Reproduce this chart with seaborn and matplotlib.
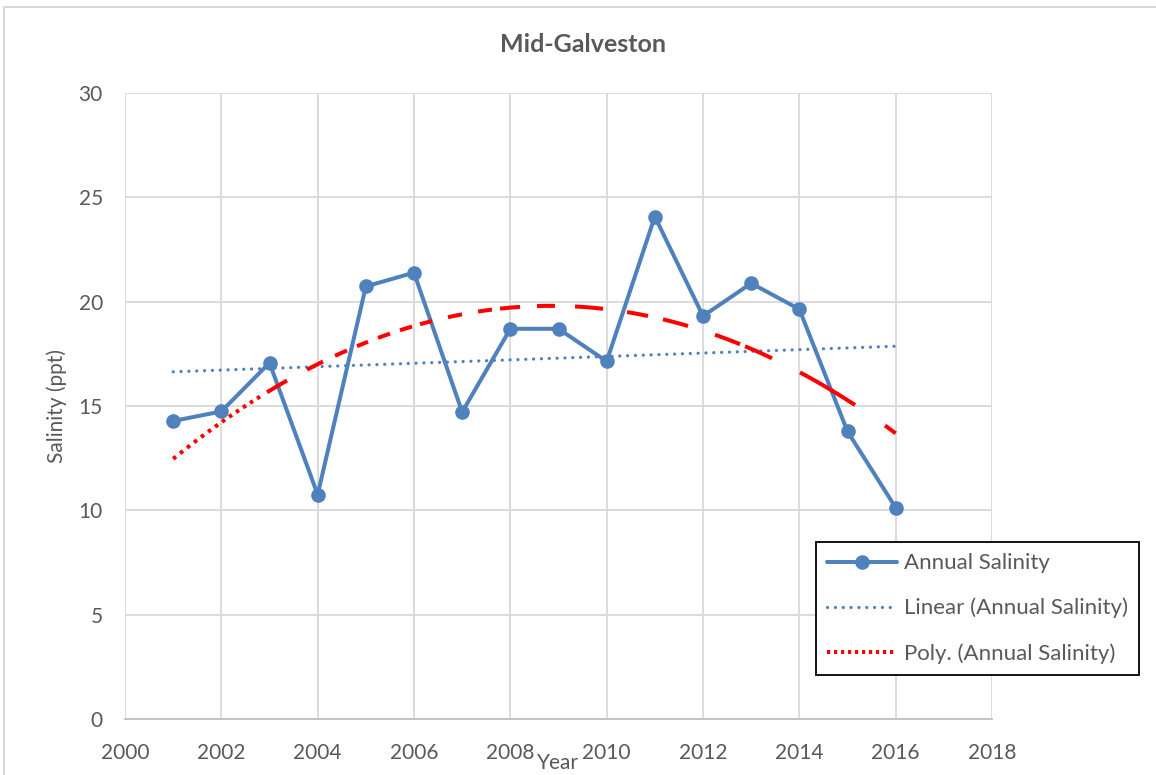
import matplotlib
matplotlib.use("Agg")
import matplotlib.pyplot as plt
import matplotlib.patches as mpatches
import seaborn as sns
import numpy as np

# ---- data ----
years = [2001, 2002, 2003, 2004, 2005, 2006, 2007, 2008,
         2009, 2010, 2011, 2012, 2013, 2014, 2015, 2016]
salinity = [14.28, 14.74, 17.07, 10.75, 20.73, 21.39, 14.71, 18.70,
            18.70, 17.14, 24.08, 19.31, 20.88, 19.64, 13.78, 10.13]
x_ticks = [2000, 2002, 2004, 2006, 2008, 2010, 2012, 2014, 2016, 2018]
y_ticks = [0, 5, 10, 15, 20, 25, 30]
title = "Mid-Galveston"
x_label = "Year"
y_label = "Salinity (ppt)"
series_label = "Annual Salinity"
linear_label = "Linear (Annual Salinity)"
poly_label = "Poly. (Annual Salinity)"

BLUE = "#4F81BD"
RED = "#FF0000"
TXT = "#595959"
GRID = "#D9D9D9"

sns.set_theme(style="white")
plt.rcParams["font.family"] = ["Lato", "DejaVu Sans"]
plt.rcParams["lines.scale_dashes"] = False

W, H = 1156, 775
fig = plt.figure(figsize=(W / 100, H / 100), dpi=100)
L, R, T, B = 125, 992, 93, 719
ax = fig.add_axes([L / W, 1 - B / H, (R - L) / W, (B - T) / H])
ax.set_xlim(2000, 2018)
ax.set_ylim(0, 30)

# main series
sns.lineplot(x=years, y=salinity, ax=ax, color=BLUE, linewidth=2.9,
             marker="o", markersize=10.5, markeredgewidth=0,
             label=series_label, zorder=3)

PT = 0.72  # pixels -> points at 100 dpi

# linear trend (dotted)
sns.regplot(x=years, y=salinity, ax=ax, order=1, ci=None, scatter=False,
            truncate=True, label=linear_label,
            line_kws=dict(color=BLUE, linewidth=2.3,
                          linestyle=(0, (0.1, 7.7 * PT)),
                          dash_capstyle="round", zorder=4))

# ---- polynomial trend, styled like Excel's rendering ----
# arc length (pixels) along the fitted curve, used only to place the dash pattern
coef = np.polyfit(years, salinity, 2)
xs = np.linspace(years[0], years[-1], 3000)
pix = ax.transData.transform(np.column_stack([xs, np.polyval(coef, xs)]))
arc = np.concatenate([[0], np.cumsum(np.hypot(*np.diff(pix, axis=0).T))])
pix_x = pix[:, 0]


def s_at(xpix):
    return float(np.interp(xpix, pix_x, arc))


def pattern(ranges):
    seq = [0.01, s_at(ranges[0][0])]
    for i, (a, b) in enumerate(ranges):
        on = s_at(b) - s_at(a)
        off = (s_at(ranges[i + 1][0]) - s_at(b)) if i + 1 < len(ranges) else 5000
        seq += [max(on, 0.01), max(off, 0.01)]
    return tuple(v * PT for v in seq)


# horizontal pixel spans of the red marks (style only)
dot_spans = [(173 + 7 * k, 176 + 7 * k) for k in range(13)]
dash_spans_a = [(267, 287), (307, 323), (335, 347), (357, 368), (378, 390),
                (400, 412), (420, 432), (448, 462), (478, 492)]
dash_spans_b = [(500, 520), (537, 555), (575, 603), (627, 648), (663, 688),
                (715, 740), (745, 772), (800, 855), (885, 897)]

for spans, lab in [(dot_spans, poly_label), (dash_spans_a, "_nolegend_"),
                   (dash_spans_b, "_nolegend_")]:
    sns.regplot(x=years, y=salinity, ax=ax, order=2, ci=None, scatter=False,
                truncate=True, label=lab,
                line_kws=dict(color=RED, linewidth=2.9,
                              linestyle=(0, pattern(spans)),
                              dash_capstyle="butt", zorder=5))

ax.set_xlim(2000, 2018)
ax.set_ylim(0, 30)
ax.set_xticks(x_ticks)
ax.set_yticks(y_ticks)
ax.set_xticklabels([str(v) for v in x_ticks])
ax.set_yticklabels([str(v) for v in y_ticks])
ax.tick_params(axis="both", length=0, labelsize=15, labelcolor=TXT)
ax.tick_params(axis="x", pad=17)
ax.tick_params(axis="y", pad=16)
ax.set_xlabel("")
ax.set_ylabel("")
ax.grid(True, color=GRID, linewidth=1.3)
ax.set_axisbelow(True)
for s in ["left", "right", "top"]:
    ax.spines[s].set_visible(False)
ax.spines["bottom"].set_color("#BFBFBF")
ax.spines["bottom"].set_linewidth(1.3)

# texts
fig.text(583 / W, 1 - 45 / H, title, ha="center", va="center",
         fontsize=18, fontweight="bold", color=TXT)
fig.text(558 / W, 1 - 763 / H, x_label, ha="center", va="center",
         fontsize=15, color=TXT)
fig.text(57 / W, 1 - 406 / H, y_label, ha="center", va="center",
         rotation=90, fontsize=15, color=TXT)

# legend
handles, labels = ax.get_legend_handles_labels()
leg = ax.legend(handles, labels, loc="center",
                bbox_to_anchor=(977.5 / W, 1 - 608.5 / H),
                bbox_transform=fig.transFigure, frameon=True,
                fancybox=False, fontsize=16, handlelength=3.15,
                handletextpad=0.32, labelspacing=1.1, borderpad=0.5,
                borderaxespad=0)
leg.get_frame().set_edgecolor("black")
leg.get_frame().set_linewidth(1.3)
leg.get_frame().set_facecolor("white")
leg.get_frame().set_alpha(1)
for t in leg.get_texts():
    t.set_color(TXT)
# legend sample for the poly trend: plain red dots
leg.get_lines()[2].set_linestyle((0, (3.2 * PT, 3.8 * PT)))

# outer chart border
fig.patches.append(mpatches.Rectangle((4 / W, -0.05), 1.2, 1 - 7 / H + 0.05,
                                      transform=fig.transFigure, fill=False,
                                      edgecolor=GRID, linewidth=1.5))

fig.savefig("out.png", dpi=100, facecolor="white")
